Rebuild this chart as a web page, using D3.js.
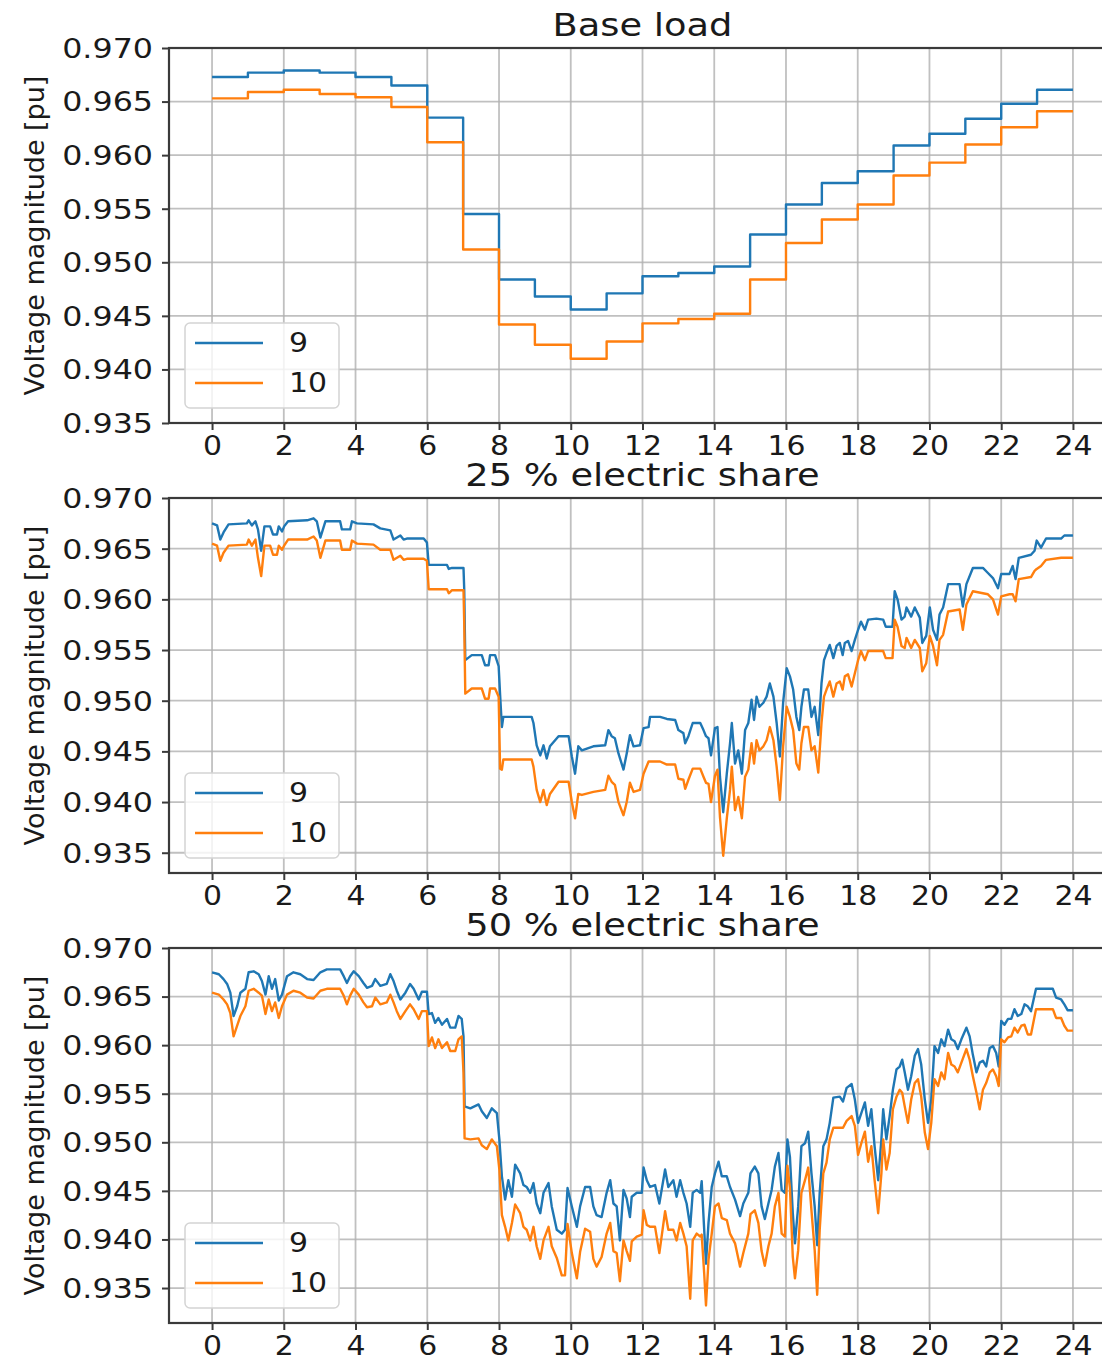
<html>
    <head>
        <title>Voltage magnitude at nodes 9 and 10</title>
        <style>
            body { margin: 0; background: #fff; }
            svg { display: block; }
            .chart text { fill: #1a1a1a; font-family: "DejaVu Sans", sans-serif; }
            .grid line { stroke: #b0b0b0; stroke-opacity: 0.8; stroke-width: 1.8; }
            .spine { fill: none; stroke: #3a3a3a; stroke-width: 2.2; }
            .series { fill: none; stroke-width: 2.4; stroke-linejoin: round; }
        </style>
    </head>
    <body>
        <svg class="chart" width="1102" height="1360"></svg>
        <script src="https://cdn.jsdelivr.net/npm/d3@7"></script>
        <script>

            // tick values, names and titles
            var hourTicks = [0, 2, 4, 6, 8, 10, 12, 14, 16, 18, 20, 22, 24];
            var voltTicks = [0.935, 0.940, 0.945, 0.950, 0.955, 0.960, 0.965, 0.970];
            var seriesNames = ['9', '10'];
            var seriesColors = ['#1f77b4', '#ff7f0e'];
            var panelTitles = ['Base load', '25 % electric share', '50 % electric share'];
            var yMins = [0.935, 0.933, 0.9314];

            // base load: hourly steps
            var hoursBase = [0, 1, 2, 3, 4, 5, 6, 7, 8, 9, 10, 11, 12, 13, 14, 15, 16, 17, 18, 19, 20, 21, 22, 23, 24];
            var base9 = [0.9673, 0.9677, 0.9679, 0.9677, 0.9673, 0.9665, 0.9635, 0.9545, 0.9484, 0.9468, 0.9456, 0.9471,
                         0.9487, 0.9490, 0.9496, 0.9526, 0.9554, 0.9574, 0.9585, 0.9609, 0.9620, 0.9634, 0.9648, 0.9661, 0.9661];
            var base10 = [0.9653, 0.9659, 0.9661, 0.9657, 0.9654, 0.9645, 0.9612, 0.9512, 0.9442, 0.9423, 0.9410, 0.9426,
                          0.9443, 0.9447, 0.9452, 0.9484, 0.9518, 0.9540, 0.9554, 0.9581, 0.9593, 0.9610, 0.9626, 0.9641, 0.9641];

            // 25 % electric share
            var hours25 = [0.00, 0.14, 0.23, 0.32, 0.46, 0.97, 1.02, 1.11, 1.21, 1.28, 1.37, 1.46, 1.62, 1.70, 1.81, 1.86, 1.95, 2.01, 2.12, 2.65,
                           2.83, 2.92, 3.02, 3.16, 3.57, 3.62, 3.85, 3.90, 4.04, 4.50, 4.69, 4.97, 5.06, 5.25, 5.34, 5.43, 5.90, 5.99, 6.04, 6.55,
                           6.60, 6.69, 7.01, 7.03, 7.06, 7.24, 7.52, 7.61, 7.71, 7.75, 7.89, 7.99, 8.03, 8.08, 8.12, 8.91, 8.96, 9.05, 9.15, 9.24,
                           9.33, 9.42, 9.66, 9.94, 10.03, 10.12, 10.21, 10.31, 10.63, 10.96, 11.05, 11.14, 11.23, 11.33, 11.47, 11.56, 11.65,
                           11.75, 11.93, 12.03, 12.17, 12.21, 12.49, 12.68, 12.91, 13.00, 13.14, 13.19, 13.28, 13.40, 13.61, 13.70, 13.77, 13.84, 13.91,
                           14.02, 14.09, 14.16, 14.25, 14.35, 14.44, 14.49, 14.58, 14.67, 14.77, 14.86, 14.95, 15.04, 15.11, 15.18, 15.26, 15.37, 15.46,
                           15.55, 15.65, 15.74, 15.83, 15.92, 16.02, 16.11, 16.20, 16.29, 16.37, 16.43, 16.50, 16.62, 16.71, 16.80, 16.90, 16.99, 17.06,
                           17.13, 17.22, 17.32, 17.41, 17.50, 17.58, 17.64, 17.73, 17.83, 17.92, 18.01, 18.09, 18.20, 18.29, 18.52, 18.71, 18.78, 18.97,
                           19.03, 19.11, 19.22, 19.31, 19.36, 19.49, 19.59, 19.73, 19.80, 19.91, 20.01, 20.10, 20.21, 20.28, 20.38, 20.52, 20.84, 20.93,
                           21.03, 21.21, 21.49, 21.63, 21.77, 21.91, 22.00, 22.23, 22.32, 22.40, 22.49, 22.83, 22.93, 22.99, 23.11, 23.25, 23.67, 23.76, 24.00];
            var e25_9 = [0.9675, 0.9673, 0.9659, 0.9666, 0.9674, 0.9675, 0.9678, 0.9673, 0.9677, 0.9669, 0.9648, 0.9672, 0.9672, 0.9664, 0.9664, 0.9672, 0.9667, 0.9672, 0.9677, 0.9678,
                         0.9680, 0.9677, 0.9661, 0.9677, 0.9677, 0.9669, 0.9669, 0.9677, 0.9675, 0.9674, 0.9670, 0.9668, 0.9659, 0.9663, 0.9659, 0.9660, 0.9660, 0.9656, 0.9634, 0.9634,
                         0.9630, 0.9631, 0.9631, 0.9610, 0.9540, 0.9545, 0.9545, 0.9535, 0.9535, 0.9545, 0.9545, 0.9534, 0.9506, 0.9474, 0.9484, 0.9484, 0.9478, 0.9456, 0.9446, 0.9456,
                         0.9443, 0.9455, 0.9465, 0.9465, 0.9445, 0.9428, 0.9455, 0.9451, 0.9455, 0.9456, 0.9471, 0.9465, 0.9463, 0.9448, 0.9432, 0.9448, 0.9466,
                         0.9455, 0.9456, 0.9473, 0.9474, 0.9484, 0.9484, 0.9482, 0.9481, 0.9471, 0.9468, 0.9458, 0.9465, 0.9478, 0.9478, 0.9471, 0.9465, 0.9463, 0.9446,
                         0.9473, 0.9474, 0.9425, 0.9390, 0.9428, 0.9458, 0.9478, 0.9438, 0.9451, 0.9428, 0.9471, 0.9478, 0.9501, 0.9481, 0.9504, 0.9494, 0.9498, 0.9504,
                         0.9517, 0.9504, 0.9478, 0.9445, 0.9498, 0.9532, 0.9524, 0.9511, 0.9484, 0.9471, 0.9494, 0.9511, 0.9511, 0.9484, 0.9494, 0.9466, 0.9517, 0.9540,
                         0.9547, 0.9555, 0.9542, 0.9554, 0.9557, 0.9545, 0.9557, 0.9559, 0.9549, 0.9560, 0.9570, 0.9578, 0.9570, 0.9580, 0.9581, 0.9580, 0.9573, 0.9573,
                         0.9608, 0.9600, 0.9580, 0.9583, 0.9592, 0.9583, 0.9592, 0.9582, 0.9557, 0.9564, 0.9592, 0.9570, 0.9560, 0.9585, 0.9592, 0.9615, 0.9615, 0.9593,
                         0.9615, 0.9631, 0.9631, 0.9626, 0.9621, 0.9611, 0.9625, 0.9625, 0.9633, 0.9620, 0.9641, 0.9644, 0.9648, 0.9658, 0.9651, 0.9660, 0.9660, 0.9663, 0.9663];
            var e25_10 = [0.9655, 0.9653, 0.9638, 0.9646, 0.9653, 0.9654, 0.9659, 0.9653, 0.9659, 0.9641, 0.9623, 0.9653, 0.9653, 0.9644, 0.9644, 0.9653, 0.9649, 0.9653, 0.9659, 0.9659,
                          0.9662, 0.9658, 0.9641, 0.9658, 0.9658, 0.9649, 0.9649, 0.9658, 0.9655, 0.9654, 0.9649, 0.9649, 0.9639, 0.9643, 0.9639, 0.9640, 0.9640, 0.9638, 0.9610, 0.9610,
                          0.9606, 0.9609, 0.9609, 0.9577, 0.9507, 0.9512, 0.9512, 0.9502, 0.9502, 0.9512, 0.9512, 0.9504, 0.9433, 0.9432, 0.9442, 0.9442, 0.9435, 0.9412, 0.9400, 0.9412,
                          0.9397, 0.9408, 0.9420, 0.9420, 0.9400, 0.9384, 0.9408, 0.9407, 0.9410, 0.9412, 0.9426, 0.9420, 0.9417, 0.9400, 0.9387, 0.9400, 0.9419,
                          0.9410, 0.9412, 0.9428, 0.9440, 0.9440, 0.9440, 0.9437, 0.9437, 0.9423, 0.9422, 0.9413, 0.9422, 0.9433, 0.9433, 0.9425, 0.9419, 0.9418, 0.9400,
                          0.9426, 0.9432, 0.9385, 0.9347, 0.9384, 0.9412, 0.9435, 0.9392, 0.9405, 0.9384, 0.9425, 0.9432, 0.9458, 0.9438, 0.9461, 0.9451, 0.9455, 0.9461,
                          0.9474, 0.9461, 0.9435, 0.9402, 0.9455, 0.9494, 0.9484, 0.9471, 0.9438, 0.9432, 0.9458, 0.9474, 0.9474, 0.9451, 0.9455, 0.9429, 0.9478, 0.9504,
                          0.9511, 0.9519, 0.9504, 0.9517, 0.9519, 0.9511, 0.9524, 0.9526, 0.9514, 0.9527, 0.9540, 0.9549, 0.9540, 0.9549, 0.9549, 0.9549, 0.9542, 0.9542,
                          0.9580, 0.9573, 0.9554, 0.9552, 0.9562, 0.9552, 0.9560, 0.9552, 0.9529, 0.9537, 0.9564, 0.9554, 0.9535, 0.9560, 0.9565, 0.9588, 0.9590, 0.9570,
                          0.9595, 0.9608, 0.9606, 0.9605, 0.9600, 0.9585, 0.9603, 0.9605, 0.9605, 0.9598, 0.9620, 0.9622, 0.9628, 0.9630, 0.9633, 0.9639, 0.9641, 0.9641, 0.9641];

            // 50 % electric share
            var hours50 = [0.00, 0.19, 0.32, 0.42, 0.51, 0.60, 0.70, 0.79, 0.93, 1.02, 1.16, 1.30, 1.39, 1.49, 1.58, 1.67, 1.76, 1.86, 1.95, 2.09,
                           2.27, 2.46, 2.65, 2.83, 3.02, 3.20, 3.57, 3.67, 3.76, 3.85, 3.95, 4.09, 4.22, 4.32, 4.46, 4.55, 4.69, 4.87, 4.97, 5.06,
                           5.15, 5.25, 5.39, 5.52, 5.62, 5.76, 5.85, 5.99, 6.04, 6.13, 6.22, 6.31, 6.41, 6.55, 6.64, 6.78, 6.87, 6.96, 7.01, 7.04,
                           7.20, 7.43, 7.52, 7.66, 7.80, 7.94, 8.01, 8.08, 8.17, 8.26, 8.36, 8.45, 8.59, 8.68, 8.77, 8.87, 8.96, 9.05, 9.15, 9.24,
                           9.38, 9.47, 9.61, 9.75, 9.84, 9.91, 10.03, 10.17, 10.26, 10.40, 10.54, 10.63, 10.72, 10.86, 11.00, 11.10, 11.19, 11.28, 11.37, 11.47,
                           11.56, 11.65, 11.70, 11.84, 11.98, 12.03, 12.12, 12.21, 12.35, 12.47, 12.63, 12.72, 12.86, 12.95, 13.05, 13.14, 13.23, 13.33, 13.40, 13.51,
                           13.61, 13.65, 13.72, 13.77, 13.84, 13.93, 14.02, 14.12, 14.21, 14.35, 14.44, 14.58, 14.72, 14.81, 14.95, 15.01, 15.13, 15.23, 15.32, 15.41,
                           15.51, 15.60, 15.69, 15.79, 15.88, 15.97, 16.04, 16.11, 16.19, 16.25, 16.34, 16.43, 16.53, 16.62, 16.71, 16.80, 16.87, 16.94, 17.04, 17.13,
                           17.22, 17.32, 17.50, 17.59, 17.69, 17.83, 17.92, 18.01, 18.10, 18.20, 18.29, 18.38, 18.47, 18.57, 18.66, 18.71, 18.80, 18.89, 18.98, 19.08,
                           19.17, 19.24, 19.31, 19.40, 19.49, 19.59, 19.68, 19.77, 19.87, 19.96, 20.05, 20.14, 20.24, 20.33, 20.42, 20.52, 20.61, 20.70, 20.79, 20.89,
                           21.03, 21.12, 21.21, 21.31, 21.40, 21.49, 21.58, 21.68, 21.77, 21.86, 21.93, 22.00, 22.09, 22.19, 22.28, 22.37, 22.46, 22.56, 22.65, 22.74,
                           22.83, 22.97, 23.44, 23.53, 23.67, 23.76, 23.85, 24.00];
            var e50_9 = [0.9675, 0.9673, 0.9668, 0.9663, 0.9654, 0.9630, 0.9640, 0.9654, 0.9658, 0.9675, 0.9676, 0.9673, 0.9666, 0.9652, 0.9671, 0.9658, 0.9668, 0.9646, 0.9652, 0.9671,
                         0.9675, 0.9673, 0.9668, 0.9667, 0.9675, 0.9678, 0.9678, 0.9671, 0.9664, 0.9671, 0.9676, 0.9671, 0.9664, 0.9659, 0.9661, 0.9668, 0.9661, 0.9663, 0.9673, 0.9666,
                         0.9656, 0.9647, 0.9654, 0.9663, 0.9658, 0.9647, 0.9655, 0.9655, 0.9632, 0.9633, 0.9623, 0.9628, 0.9621, 0.9627, 0.9618, 0.9618, 0.9630, 0.9627, 0.9609, 0.9537,
                         0.9535, 0.9539, 0.9532, 0.9525, 0.9535, 0.9530, 0.9503, 0.9465, 0.9441, 0.9461, 0.9444, 0.9477, 0.9468, 0.9456, 0.9454, 0.9448, 0.9458, 0.9437, 0.9427, 0.9448,
                         0.9458, 0.9434, 0.9410, 0.9406, 0.9410, 0.9453, 0.9434, 0.9413, 0.9434, 0.9454, 0.9454, 0.9434, 0.9425, 0.9423, 0.9448, 0.9461, 0.9437, 0.9434, 0.9399, 0.9451,
                         0.9442, 0.9423, 0.9444, 0.9448, 0.9448, 0.9474, 0.9461, 0.9454, 0.9456, 0.9437, 0.9472, 0.9454, 0.9461, 0.9444, 0.9461, 0.9448, 0.9437, 0.9413, 0.9448, 0.9451,
                         0.9448, 0.9460, 0.9410, 0.9375, 0.9417, 0.9454, 0.9468, 0.9480, 0.9465, 0.9465, 0.9454, 0.9441, 0.9424, 0.9437, 0.9448, 0.9468, 0.9475, 0.9468, 0.9434, 0.9421,
                         0.9437, 0.9451, 0.9475, 0.9489, 0.9451, 0.9448, 0.9503, 0.9485, 0.9427, 0.9396, 0.9434, 0.9496, 0.9499, 0.9511, 0.9468, 0.9434, 0.9394, 0.9448, 0.9496, 0.9503,
                         0.9520, 0.9546, 0.9547, 0.9542, 0.9556, 0.9560, 0.9544, 0.9520, 0.9530, 0.9541, 0.9517, 0.9534, 0.9496, 0.9461, 0.9503, 0.9534, 0.9503, 0.9527, 0.9554, 0.9575,
                         0.9578, 0.9585, 0.9572, 0.9554, 0.9568, 0.9589, 0.9596, 0.9580, 0.9544, 0.9520, 0.9544, 0.9599, 0.9592, 0.9606, 0.9599, 0.9616, 0.9606, 0.9604, 0.9596, 0.9606,
                         0.9618, 0.9609, 0.9590, 0.9572, 0.9582, 0.9584, 0.9578, 0.9597, 0.9599, 0.9592, 0.9578, 0.9625, 0.9621, 0.9627, 0.9627, 0.9637, 0.9630, 0.9632, 0.9642, 0.9640,
                         0.9635, 0.9658, 0.9658, 0.9649, 0.9647, 0.9642, 0.9636, 0.9636];
            var e50_10 = [0.9654, 0.9652, 0.9647, 0.9642, 0.9633, 0.9609, 0.9620, 0.9630, 0.9640, 0.9656, 0.9658, 0.9654, 0.9651, 0.9632, 0.9647, 0.9635, 0.9644, 0.9628, 0.9640, 0.9652,
                          0.9656, 0.9654, 0.9649, 0.9648, 0.9656, 0.9658, 0.9658, 0.9651, 0.9642, 0.9651, 0.9658, 0.9652, 0.9644, 0.9639, 0.9640, 0.9649, 0.9642, 0.9644, 0.9652, 0.9644,
                          0.9635, 0.9627, 0.9635, 0.9642, 0.9637, 0.9627, 0.9635, 0.9635, 0.9599, 0.9608, 0.9597, 0.9606, 0.9597, 0.9603, 0.9594, 0.9594, 0.9606, 0.9609, 0.9572, 0.9504,
                          0.9503, 0.9504, 0.9497, 0.9493, 0.9503, 0.9496, 0.9472, 0.9425, 0.9413, 0.9399, 0.9417, 0.9436, 0.9427, 0.9413, 0.9410, 0.9399, 0.9413, 0.9393, 0.9380, 0.9399,
                          0.9413, 0.9393, 0.9381, 0.9363, 0.9363, 0.9416, 0.9386, 0.9360, 0.9387, 0.9411, 0.9408, 0.9380, 0.9372, 0.9382, 0.9406, 0.9417, 0.9388, 0.9386, 0.9357, 0.9399,
                          0.9388, 0.9378, 0.9398, 0.9403, 0.9405, 0.9430, 0.9415, 0.9413, 0.9413, 0.9386, 0.9429, 0.9410, 0.9410, 0.9399, 0.9417, 0.9406, 0.9393, 0.9339, 0.9399, 0.9406,
                          0.9403, 0.9405, 0.9365, 0.9332, 0.9379, 0.9406, 0.9434, 0.9437, 0.9422, 0.9420, 0.9406, 0.9396, 0.9372, 0.9386, 0.9406, 0.9426, 0.9430, 0.9417, 0.9388, 0.9373,
                          0.9393, 0.9406, 0.9434, 0.9448, 0.9406, 0.9403, 0.9476, 0.9453, 0.9382, 0.9360, 0.9389, 0.9448, 0.9461, 0.9474, 0.9430, 0.9389, 0.9343, 0.9410, 0.9468, 0.9479,
                          0.9503, 0.9515, 0.9515, 0.9515, 0.9522, 0.9527, 0.9517, 0.9487, 0.9499, 0.9511, 0.9480, 0.9496, 0.9461, 0.9427, 0.9468, 0.9503, 0.9472, 0.9489, 0.9534, 0.9547,
                          0.9554, 0.9551, 0.9537, 0.9520, 0.9544, 0.9561, 0.9565, 0.9547, 0.9510, 0.9493, 0.9520, 0.9565, 0.9558, 0.9572, 0.9565, 0.9592, 0.9580, 0.9578, 0.9572, 0.9582,
                          0.9596, 0.9585, 0.9568, 0.9551, 0.9534, 0.9554, 0.9561, 0.9572, 0.9575, 0.9568, 0.9558, 0.9606, 0.9603, 0.9608, 0.9609, 0.9618, 0.9613, 0.9620, 0.9621, 0.9611,
                          0.9611, 0.9637, 0.9637, 0.9628, 0.9628, 0.9620, 0.9615, 0.9615];

            // layout
            var axLeft = 169;
            var axRight = 1116;   // right edge sits just past the picture
            var panelTops = [48, 498, 948];
            var panelH = 375;
            var textStretch = 'scale(1.15,1)';
            var yTickStretch = 1.22;

            var panels = [
                { hours: hoursBase, s9: base9, s10: base10, curve: d3.curveStepAfter },
                { hours: hours25, s9: e25_9, s10: e25_10, curve: d3.curveLinear },
                { hours: hours50, s9: e50_9, s10: e50_10, curve: d3.curveLinear }
            ];

            var chart = d3.select('.chart');

            var x = d3.scaleLinear()
                .domain([-1.2, 25.2])
                .range([axLeft, axRight]);

            panels.forEach(function(panel, i) {
                var yMin = yMins[i];
                var y = d3.scaleLinear()
                    .domain([yMin, 0.970])
                    .range([panelH, 0]);
                var yTicks = voltTicks.filter(function(v) { return v >= yMin - 1e-9; });

                var g = chart.append('g')
                    .attr('transform', 'translate(0,' + panelTops[i] + ')');

                g.append('clipPath')
                    .attr('id', 'clip' + i)
                    .append('rect')
                    .attr('x', axLeft)
                    .attr('y', 0)
                    .attr('width', axRight - axLeft)
                    .attr('height', panelH);

                // grid
                var grid = g.append('g').attr('class', 'grid');
                grid.selectAll('.vx')
                    .data(hourTicks)
                    .enter()
                    .append('line')
                    .attr('x1', function(d) { return x(d); })
                    .attr('x2', function(d) { return x(d); })
                    .attr('y1', 0)
                    .attr('y2', panelH);
                grid.selectAll('.hy')
                    .data(yTicks)
                    .enter()
                    .append('line')
                    .attr('x1', axLeft)
                    .attr('x2', axRight)
                    .attr('y1', function(d) { return y(d); })
                    .attr('y2', function(d) { return y(d); });

                // series
                var series = [panel.s9, panel.s10];
                series.forEach(function(vals, k) {
                    var pts = panel.hours.map(function(h, j) { return [h, vals[j]]; });
                    var line = d3.line()
                        .x(function(d) { return x(d[0]); })
                        .y(function(d) { return y(d[1]); })
                        .curve(panel.curve);
                    g.append('path')
                        .datum(pts)
                        .attr('class', 'series')
                        .attr('clip-path', 'url(#clip' + i + ')')
                        .attr('stroke', seriesColors[k])
                        .attr('d', line);
                });

                // axes
                var xAxis = d3.axisBottom(x)
                    .tickValues(hourTicks)
                    .tickSize(7);
                var xg = g.append('g')
                    .attr('transform', 'translate(0,' + panelH + ')')
                    .call(xAxis);
                xg.select('.domain').remove();
                xg.selectAll('line').attr('stroke', '#3a3a3a').attr('stroke-width', 2);
                xg.selectAll('text')
                    .attr('y', 32)
                    .attr('dy', null)
                    .attr('font-size', 26)
                    .attr('fill', '#1a1a1a')
                    .attr('transform', textStretch);

                var yAxis = d3.axisLeft(y)
                    .tickValues(yTicks)
                    .tickSize(7)
                    .tickFormat(d3.format('.3f'));
                var yg = g.append('g')
                    .attr('transform', 'translate(' + axLeft + ',0)')
                    .call(yAxis);
                yg.select('.domain').remove();
                yg.selectAll('line').attr('stroke', '#3a3a3a').attr('stroke-width', 2);
                yg.selectAll('text')
                    .attr('x', -16 / yTickStretch)
                    .attr('dy', '0.36em')
                    .attr('font-size', 26)
                    .attr('fill', '#1a1a1a')
                    .attr('transform', 'scale(' + yTickStretch + ',1)');

                // frame
                g.append('rect')
                    .attr('class', 'spine')
                    .attr('x', axLeft)
                    .attr('y', 0)
                    .attr('width', axRight - axLeft)
                    .attr('height', panelH);

                // title and y label
                g.append('text')
                    .attr('transform', 'translate(' + ((axLeft + axRight) / 2) + ',-12) ' + textStretch)
                    .attr('text-anchor', 'middle')
                    .attr('font-size', 32)
                    .text(panelTitles[i]);

                g.append('text')
                    .attr('transform', 'translate(44,' + (panelH / 2) + ') rotate(-90)')
                    .attr('text-anchor', 'middle')
                    .attr('font-size', 27)
                    .text('Voltage magnitude [pu]');

                // legend
                var leg = g.append('g')
                    .attr('transform', 'translate(' + (axLeft + 16) + ',' + (panelH - 100) + ')');
                leg.append('rect')
                    .attr('width', 154)
                    .attr('height', 85)
                    .attr('rx', 5)
                    .attr('fill', '#fff')
                    .attr('fill-opacity', 0.8)
                    .attr('stroke', '#d4d4d4')
                    .attr('stroke-width', 1.5);
                seriesNames.forEach(function(name, k) {
                    var ly = 20 + k * 40;
                    leg.append('line')
                        .attr('x1', 10)
                        .attr('x2', 78)
                        .attr('y1', ly)
                        .attr('y2', ly)
                        .attr('stroke', seriesColors[k])
                        .attr('stroke-width', 2.4);
                    leg.append('text')
                        .attr('transform', 'translate(104,' + ly + ') ' + textStretch)
                        .attr('dy', '0.36em')
                        .attr('font-size', 26)
                        .text(name);
                });
            });

        </script>
    </body>
</html>
